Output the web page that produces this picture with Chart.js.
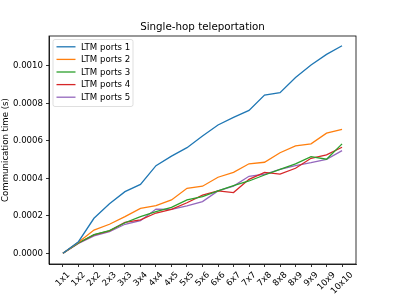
<!DOCTYPE html>
<html>
<head>
<meta charset="utf-8">
<script src="https://cdn.jsdelivr.net/npm/chart.js@4.4.0/dist/chart.umd.min.js"></script>
<style>
  html, body { margin: 0; padding: 0; background: #fff; }
  #wrap { width: 396px; height: 297px; }
</style>
</head>
<body>
<div id="wrap"><canvas id="chartComm"></canvas></div>
<script>
// Grid sizes on the x axis
const categories = ['1x1', '1x2', '2x2', '2x3', '3x3', '3x4', '4x4', '4x5', '5x5', '5x6',
    '6x6', '6x7', '7x7', '7x8', '8x8', '8x9', '9x9', '10x9', '10x10'];

// Communication time (s) per number of LTM ports
const ports1 = [0, 0.000062, 0.000187, 0.000264, 0.000329, 0.000368, 0.000468, 0.000519, 0.000564, 0.000626,
    0.000685, 0.000726, 0.000763, 0.000845, 0.000857, 0.000938, 0.001005, 0.001062, 0.001108];
const ports2 = [0, 0.000059, 0.000124, 0.000155, 0.000196, 0.00024, 0.000254, 0.000285, 0.000347, 0.000358,
    0.000406, 0.000432, 0.000478, 0.000486, 0.000537, 0.000573, 0.000584, 0.000641, 0.000662];
const ports3 = [0, 0.000055, 0.0001, 0.000121, 0.000163, 0.000196, 0.000222, 0.000245, 0.000285, 0.000302,
    0.000333, 0.000361, 0.000386, 0.000418, 0.000448, 0.000477, 0.000516, 0.000502, 0.000584];
const ports4 = [0, 0.000055, 0.000098, 0.00012, 0.000165, 0.000178, 0.000215, 0.000235, 0.00027, 0.000311,
    0.000333, 0.000324, 0.000395, 0.000432, 0.000423, 0.000454, 0.000507, 0.000525, 0.000566];
const ports5 = [0, 0.000053, 0.000093, 0.000115, 0.000155, 0.000174, 0.000236, 0.000235, 0.000253, 0.000276,
    0.000333, 0.000359, 0.000411, 0.000422, 0.000448, 0.000468, 0.000484, 0.000502, 0.000548];

const seriesLabels = ['LTM ports 1', 'LTM ports 2', 'LTM ports 3', 'LTM ports 4', 'LTM ports 5'];
const seriesValues = [ports1, ports2, ports3, ports4, ports5];
const seriesColors = ['#1f77b4', '#ff7f0e', '#2ca02c', '#d62728', '#9467bd'];

const yTicks = [0, 0.0002, 0.0004, 0.0006, 0.0008, 0.0010];
const chartTitle = 'Single-hop teleportation';

const FONT = 'DejaVu Sans';
const FS = 8.6;

// frame on all four sides, title over the axes, centered 45deg x labels and legend box like matplotlib
const framePlugin = {
    id: 'frame',
    afterDatasetsDraw(chart) {
        const { ctx, chartArea: a } = chart;
        ctx.save();
        ctx.strokeStyle = '#000';
        ctx.lineWidth = 0.8;
        ctx.strokeRect(a.left, a.top, a.right - a.left, a.bottom - a.top);

        // title centred on the axes
        ctx.fillStyle = '#000';
        ctx.font = '10.3px "' + FONT + '"';
        ctx.textAlign = 'center';
        ctx.textBaseline = 'alphabetic';
        ctx.fillText(chartTitle, (a.left + a.right) / 2, a.top - 6.5);

        // x tick labels, rotated around their centre
        const xs = chart.scales.x;
        ctx.font = FS + 'px "' + FONT + '"';
        ctx.textBaseline = 'middle';
        categories.forEach((c, i) => {
            const px = xs.getPixelForValue(i);
            const w = ctx.measureText(c).width;
            const half = (w + FS * 1.15) * Math.SQRT1_2 / 2;
            ctx.save();
            ctx.translate(px, a.bottom + 6 + half);
            ctx.rotate(-Math.PI / 4);
            ctx.fillText(c, 0, 0);
            ctx.restore();
        });

        // legend
        const x = a.left + 4, y = a.top + 3.5, w = 80, h = 67;
        ctx.textAlign = 'left';
        ctx.fillStyle = 'rgba(255,255,255,0.8)';
        ctx.strokeStyle = 'rgba(204,204,204,0.8)';
        ctx.lineWidth = 0.8;
        ctx.beginPath();
        ctx.roundRect(x, y, w, h, 2);
        ctx.fill();
        ctx.stroke();
        chart.data.datasets.forEach((ds, i) => {
            const ry = y + 7.3 + i * 12.6;
            ctx.strokeStyle = ds.borderColor;
            ctx.lineWidth = 1.3;
            ctx.beginPath();
            ctx.moveTo(x + 3.5, ry);
            ctx.lineTo(x + 22.5, ry);
            ctx.stroke();
            ctx.fillStyle = '#000';
            ctx.fillText(ds.label, x + 28, ry + 0.5);
        });
        ctx.restore();
    }
};

new Chart(document.getElementById('chartComm'), {
    type: 'line',
    data: {
        datasets: seriesValues.map((vals, s) => ({
            label: seriesLabels[s],
            data: vals.map((v, i) => ({ x: i, y: v })),
            borderColor: seriesColors[s],
            backgroundColor: seriesColors[s],
            borderWidth: 1.3,
            pointRadius: 0,
            tension: 0,
            fill: false
        }))
    },
    options: {
        responsive: true,
        maintainAspectRatio: false,
        animation: false,
        layout: { padding: { left: 0, right: 40, top: 36, bottom: 0 } },
        plugins: {
            legend: { display: false },
            tooltip: { enabled: false },
            title: { display: false }
        },
        scales: {
            x: {
                type: 'linear',
                min: -0.9,
                max: 18.9,
                afterBuildTicks: (scale) => { scale.ticks = categories.map((c, i) => ({ value: i })); },
                afterFit: (scale) => { scale.height = 33; },
                grid: { display: true, drawOnChartArea: false, drawTicks: true, tickLength: 3, color: '#000', lineWidth: 0.8 },
                border: { display: true, color: '#000', width: 0.8 },
                ticks: { display: false, autoSkip: false }
            },
            y: {
                min: -0.0000571,
                max: 0.00116,
                afterBuildTicks: (scale) => { scale.ticks = yTicks.map(v => ({ value: v })); },
                afterFit: (scale) => { scale.width = 49; },
                grid: { display: true, drawOnChartArea: false, drawTicks: true, tickLength: 3, color: '#000', lineWidth: 0.8 },
                border: { display: true, color: '#000', width: 0.8 },
                title: {
                    display: true,
                    text: 'Communication time (s)',
                    color: '#000',
                    font: { family: FONT, size: FS },
                    padding: { top: 1, bottom: 0 }
                },
                ticks: {
                    color: '#000',
                    font: { family: FONT, size: FS },
                    padding: 3,
                    callback: (v) => v.toFixed(4)
                }
            }
        }
    },
    plugins: [framePlugin]
});
</script>
</body>
</html>
